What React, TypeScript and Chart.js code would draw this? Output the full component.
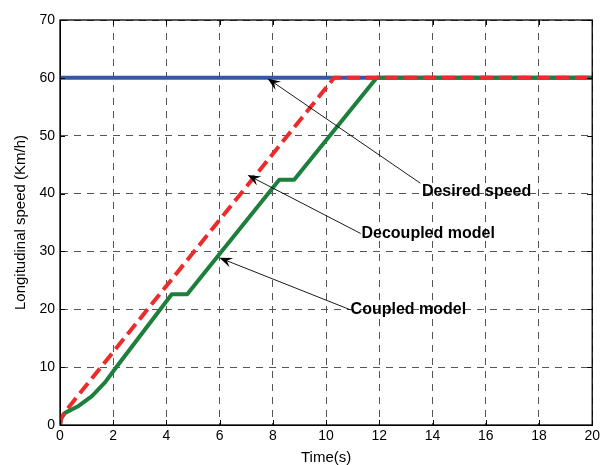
import React, { useEffect, useRef } from "react";
import { Chart, registerables } from "chart.js";

Chart.register(...registerables);

// ---- data ----
const timeDesired = [0, 20];
const speedDesired = [60, 60];

const timeDecoupled = [0, 0.05, 0.19, 10.3, 20];
const speedDecoupled = [0, 1.2, 2.3, 60, 60];

const timeCoupled = [0, 0.05, 0.19, 0.7, 1.2, 1.7, 2.1, 4.2, 4.78, 8.24, 8.8, 11.9, 20];
const speedCoupled = [0, 1.2, 2.1, 3.3, 5.0, 7.4, 9.9, 22.6, 22.6, 42.4, 42.4, 60, 60];

const xTicks = [0, 2, 4, 6, 8, 10, 12, 14, 16, 18, 20];
const yTicks = [0, 10, 20, 30, 40, 50, 60, 70];

const annotationLabels = ["Desired speed", "Decoupled model", "Coupled model"];
const annotationTextX = [13.6, 11.33, 10.92];
const annotationTextY = [40.3, 33.1, 19.9];
const arrowTailX = [13.54, 11.3, 10.92];
const arrowTailY = [41.8, 33.1, 19.9];
const arrowTipX = [7.8, 7.05, 5.99];
const arrowTipY = [59.9, 43.2, 28.9];

const FONT = '"Liberation Sans", Arial, Helvetica, sans-serif';

const toPoints = (xs: number[], ys: number[]) => xs.map((x, i) => ({ x, y: ys[i] }));

const framePlugin = {
  id: "framePlugin",
  afterDatasetsDraw(chart: any) {
    const { ctx, chartArea } = chart;
    const { left, right, top, bottom } = chartArea;
    const xs = chart.scales.x;
    const ys = chart.scales.y;
    ctx.save();
    // inner ticks
    ctx.strokeStyle = "#000";
    ctx.lineWidth = 1;
    ctx.beginPath();
    xTicks.forEach((t) => {
      const px = Math.round(xs.getPixelForValue(t)) + 0.5;
      ctx.moveTo(px, bottom);
      ctx.lineTo(px, bottom - 5);
      ctx.moveTo(px, top);
      ctx.lineTo(px, top + 5);
    });
    yTicks.forEach((t) => {
      const py = Math.round(ys.getPixelForValue(t)) + 0.5;
      ctx.moveTo(left, py);
      ctx.lineTo(left + 5, py);
      ctx.moveTo(right, py);
      ctx.lineTo(right - 5, py);
    });
    ctx.stroke();
    // frame
    ctx.strokeStyle = "#000";
    ctx.lineWidth = 1.3;
    ctx.strokeRect(left, top, right - left, bottom - top);

    // annotations
    annotationLabels.forEach((label, i) => {
      const tx = xs.getPixelForValue(arrowTailX[i]);
      const ty = ys.getPixelForValue(arrowTailY[i]);
      const hx = xs.getPixelForValue(arrowTipX[i]);
      const hy = ys.getPixelForValue(arrowTipY[i]);
      const ang = Math.atan2(hy - ty, hx - tx);
      const L = 13;
      const W = 5;
      ctx.strokeStyle = "#000";
      ctx.fillStyle = "#000";
      ctx.lineWidth = 0.9;
      ctx.beginPath();
      ctx.moveTo(tx, ty);
      ctx.lineTo(hx - Math.cos(ang) * 6, hy - Math.sin(ang) * 6);
      ctx.stroke();
      // arrowhead with notch
      const bx = hx - Math.cos(ang) * L;
      const by = hy - Math.sin(ang) * L;
      const nx = hx - Math.cos(ang) * L * 0.62;
      const ny = hy - Math.sin(ang) * L * 0.62;
      const px = -Math.sin(ang);
      const py = Math.cos(ang);
      ctx.beginPath();
      ctx.moveTo(hx, hy);
      ctx.lineTo(bx + px * W, by + py * W);
      ctx.lineTo(nx, ny);
      ctx.lineTo(bx - px * W, by - py * W);
      ctx.closePath();
      ctx.fill();

      ctx.font = `bold 16px ${FONT}`;
      ctx.textAlign = "left";
      ctx.textBaseline = "middle";
      ctx.fillStyle = "#000";
      ctx.fillText(
        label,
        xs.getPixelForValue(annotationTextX[i]),
        ys.getPixelForValue(annotationTextY[i])
      );
    });
    ctx.restore();
  },
};

export default function App() {
  const canvasRef = useRef<HTMLCanvasElement | null>(null);

  useEffect(() => {
    if (!canvasRef.current) return;
    const chart = new Chart(canvasRef.current, {
      type: "line",
      data: {
        datasets: [
          {
            label: "Decoupled model",
            data: toPoints(timeDecoupled, speedDecoupled),
            borderColor: "#ee2b2b",
            borderWidth: 4,
            borderDash: [13, 6],
            pointRadius: 0,
            tension: 0,
            borderJoinStyle: "round",
            fill: false,
          },
          {
            label: "Coupled model",
            data: toPoints(timeCoupled, speedCoupled),
            borderColor: "#1c7f3c",
            borderWidth: 4,
            pointRadius: 0,
            tension: 0,
            borderJoinStyle: "round",
            fill: false,
          },
          {
            label: "Desired speed",
            data: toPoints(timeDesired, speedDesired),
            borderColor: "#3656a6",
            borderWidth: 4,
            pointRadius: 0,
            tension: 0,
            fill: false,
          },
        ],
      },
      options: {
        animation: false,
        responsive: false,
        events: [],
        layout: { padding: { top: 20, right: 9, left: 0, bottom: 0 } },
        plugins: {
          legend: { display: false },
          tooltip: { enabled: false },
        },
        scales: {
          x: {
            type: "linear",
            min: 0,
            max: 20,
            afterBuildTicks: (axis: any) => {
              axis.ticks = xTicks.map((v) => ({ value: v }));
            },
            afterFit: (axis: any) => {
              axis.height = 40;
            },
            ticks: {
              color: "#000",
              font: { family: FONT, size: 14 },
              padding: 3,
              maxRotation: 0,
              autoSkip: false,
            },
            grid: {
              color: "#555",
              lineWidth: 1,
              drawTicks: false,
            },
            border: { display: true, color: "#000", dash: [7, 6] },
            title: {
              display: true,
              text: "Time(s)",
              color: "#000",
              font: { family: FONT, size: 15, lineHeight: 1 },
              padding: { top: 0, bottom: 0 },
            },
          },
          y: {
            type: "linear",
            min: 0,
            max: 70,
            afterBuildTicks: (axis: any) => {
              axis.ticks = yTicks.map((v) => ({ value: v }));
            },
            afterFit: (axis: any) => {
              axis.width = 60;
            },
            ticks: {
              color: "#000",
              font: { family: FONT, size: 14 },
              padding: 5,
              autoSkip: false,
            },
            grid: {
              color: "#555",
              lineWidth: 1,
              drawTicks: false,
            },
            border: { display: true, color: "#000", dash: [7, 6] },
            title: {
              display: true,
              text: "Longitudinal speed (Km/h)",
              color: "#000",
              font: { family: FONT, size: 15, lineHeight: 1 },
              padding: { top: 13, bottom: 0 },
            },
          },
        },
      },
      plugins: [framePlugin],
    });
    return () => chart.destroy();
  }, []);

  return (
    <div style={{ position: "absolute", left: 0, top: 0, width: 603, height: 465, background: "#fff" }}>
      <canvas ref={canvasRef} width={603} height={465} style={{ display: "block" }} />
    </div>
  );
}
